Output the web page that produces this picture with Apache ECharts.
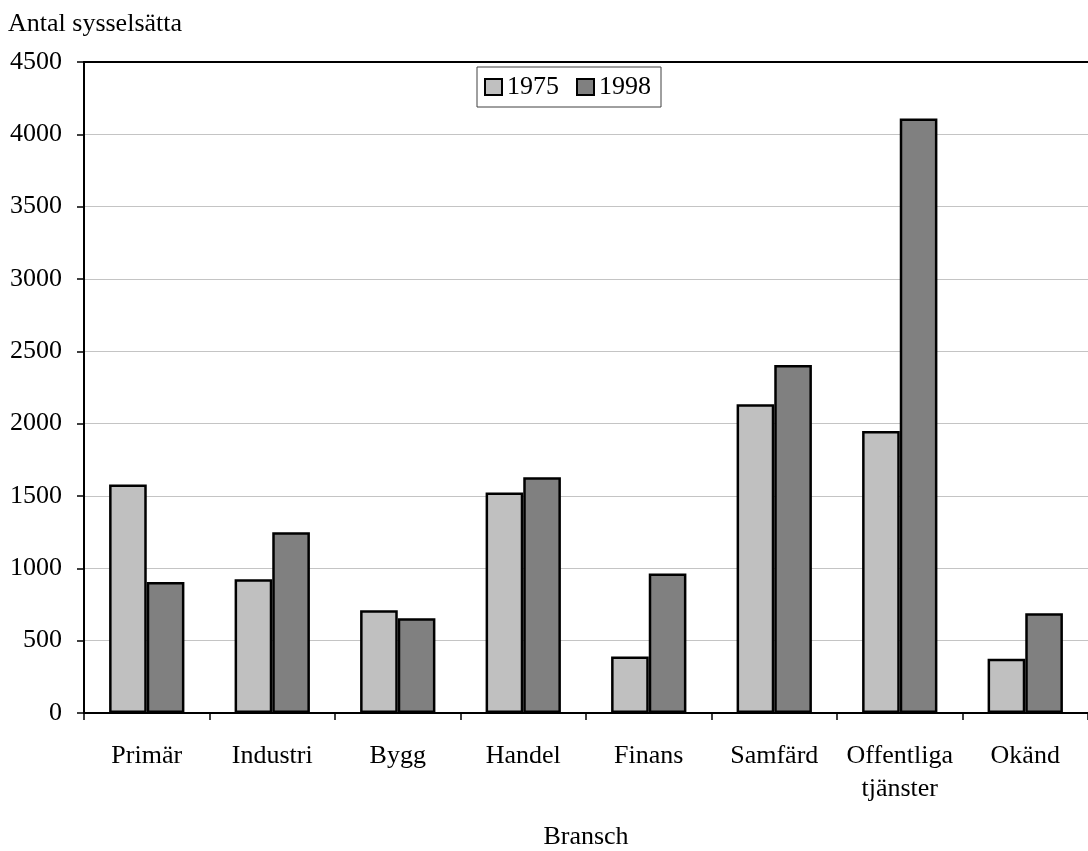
<!DOCTYPE html>
<html>
<head>
<meta charset="utf-8">
<script src="https://cdn.jsdelivr.net/npm/echarts@6/dist/echarts.min.js"></script>
<style>
  html, body { margin: 0; padding: 0; background: #ffffff; }
  #chart { width: 1088px; height: 851px; }
</style>
</head>
<body>
<div id="chart"></div>
<script>
// Employment by industry (number employed), 1975 vs 1998
const categories = ['Primär', 'Industri', 'Bygg', 'Handel', 'Finans', 'Samfärd', 'Offentliga\ntjänster', 'Okänd'];
const values1975 = [1580, 925, 710, 1525, 390, 2135, 1950, 375];
const values1998 = [905, 1250, 655, 1630, 965, 2405, 4110, 690];
const seriesNames = ['1975', '1998'];
const yTicks = { min: 0, max: 4500, interval: 500 };

const FONT = '"Liberation Serif", "Times New Roman", serif';

const chart = echarts.init(document.getElementById('chart'), null, { renderer: 'canvas' });

chart.setOption({
  animation: false,
  backgroundColor: '#ffffff',
  textStyle: { fontFamily: FONT, color: '#000000' },
  title: {
    text: 'Antal sysselsätta',
    left: 3,
    top: 6,
    textStyle: { fontFamily: FONT, fontSize: 26, fontWeight: 'normal', color: '#000000' }
  },
  legend: {
    data: seriesNames,
    left: 477,
    top: 67,
    padding: [7, 10, 7, 7],
    itemGap: 17,
    itemWidth: 17,
    itemHeight: 16,
    icon: 'rect',
    borderColor: '#404040',
    borderWidth: 1,
    backgroundColor: '#ffffff',
    itemStyle: { borderColor: '#000000', borderWidth: 2 },
    textStyle: { fontFamily: FONT, fontSize: 26, color: '#000000' }
  },
  grid: { left: 84, right: 0, top: 62, bottom: 138, outerBoundsMode: 'none' },
  xAxis: [
    {
      type: 'category',
      data: categories,
      name: 'Bransch',
      nameLocation: 'middle',
      nameGap: 111,
      nameMoveOverlap: false,
      nameTextStyle: { fontFamily: FONT, fontSize: 26, color: '#000000' },
      axisLine: { lineStyle: { color: '#000000', width: 2 } },
      axisTick: { show: true, length: 7, lineStyle: { color: '#000000', width: 1.5 } },
      axisLabel: { fontFamily: FONT, fontSize: 26, color: '#000000', margin: 27, lineHeight: 33, interval: 0 },
      splitLine: { show: false }
    },
    {
      // top frame line of the plot area
      type: 'category',
      data: categories,
      position: 'top',
      axisLine: { lineStyle: { color: '#000000', width: 2 } },
      axisTick: { show: false },
      axisLabel: { show: false },
      splitLine: { show: false }
    }
  ],
  yAxis: {
    type: 'value',
    min: yTicks.min,
    max: yTicks.max,
    interval: yTicks.interval,
    axisLine: { show: true, lineStyle: { color: '#000000', width: 2 } },
    axisTick: { show: true, length: 7, lineStyle: { color: '#000000', width: 1.5 } },
    axisLabel: { fontFamily: FONT, fontSize: 26, color: '#000000', margin: 22, formatter: v => String(v) },
    splitLine: { show: true, lineStyle: { color: '#c4c4c4', width: 1 } }
  },
  series: [
    {
      name: seriesNames[0],
      type: 'bar',
      data: values1975,
      barGap: '0%',
      barCategoryGap: '40%',
      itemStyle: { color: '#c0c0c0', borderColor: '#000000', borderWidth: 2.5 }
    },
    {
      name: seriesNames[1],
      type: 'bar',
      data: values1998,
      barGap: '0%',
      barCategoryGap: '40%',
      itemStyle: { color: '#808080', borderColor: '#000000', borderWidth: 2.5 }
    }
  ]
});
</script>
</body>
</html>
